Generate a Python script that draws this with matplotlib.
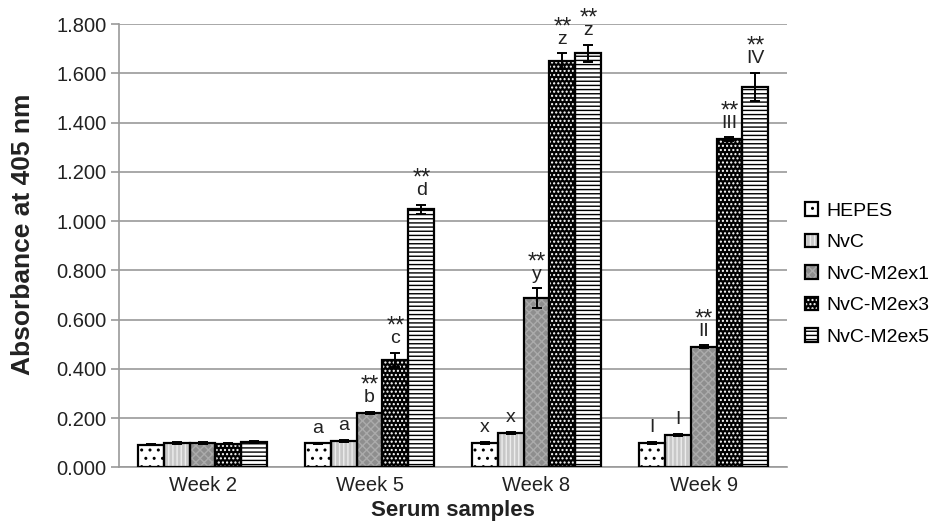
import matplotlib
matplotlib.use("Agg")
import matplotlib.pyplot as plt
import numpy as np

plt.rcParams['font.family'] = ['Liberation Sans', 'DejaVu Sans']
plt.rcParams['hatch.linewidth'] = 1.0

weeks = ['Week 2', 'Week 5', 'Week 8', 'Week 9']
groups = ['HEPES', 'NvC', 'NvC-M2ex1', 'NvC-M2ex3', 'NvC-M2ex5']

hepes = [0.093, 0.098, 0.100, 0.100]
nvc = [0.099, 0.109, 0.139, 0.132]
m2ex1 = [0.099, 0.222, 0.687, 0.490]
m2ex3 = [0.097, 0.436, 1.649, 1.332]
m2ex5 = [0.102, 1.048, 1.681, 1.545]

hepes_err = [0.003, 0.003, 0.004, 0.004]
nvc_err = [0.004, 0.004, 0.005, 0.003]
m2ex1_err = [0.003, 0.003, 0.040, 0.006]
m2ex3_err = [0.003, 0.030, 0.032, 0.008]
m2ex5_err = [0.004, 0.018, 0.034, 0.058]

hepes_lbl = ['', 'a', 'x', 'I']
nvc_lbl = ['', 'a', 'x', 'I']
m2ex1_lbl = ['', 'b', 'y', 'II']
m2ex3_lbl = ['', 'c', 'z', 'III']
m2ex5_lbl = ['', 'd', 'z', 'IV']

stars = ['', '**', '**', '**']
no_stars = ['', '', '', '']

values = [hepes, nvc, m2ex1, m2ex3, m2ex5]
errors = [hepes_err, nvc_err, m2ex1_err, m2ex3_err, m2ex5_err]
letters = [hepes_lbl, nvc_lbl, m2ex1_lbl, m2ex3_lbl, m2ex5_lbl]
signif = [no_stars, no_stars, stars, stars, stars]

# face colour, hatch colour, hatch pattern
styles = [
    ('white', 'black', '..'),
    ('#c8c8c8', '#ededed', '||||'),
    ('#8e8e8e', '#ababab', 'xxxx'),
    ('black', 'white', '....'),
    ('white', 'black', '----'),
]

fig = plt.figure(figsize=(9.37, 5.29), dpi=100)
ax = fig.add_axes([0.127, 0.1163, 0.713, 0.8383])

x = np.arange(len(weeks))
w = 0.155
handles = []
for i, (vals, errs, (face, hc, hatch)) in enumerate(zip(values, errors, styles)):
    pos = x + (i - 2) * w
    b1 = ax.bar(pos, vals, w, color=face, edgecolor=hc, hatch=hatch,
                linewidth=0, zorder=2)
    b2 = ax.bar(pos, vals, w, fill=False, edgecolor='black', linewidth=1.6,
                zorder=3, yerr=errs,
                error_kw=dict(ecolor='black', elinewidth=1.4, capsize=3.5,
                              capthick=1.4, zorder=4))
    handles.append((b1[0], b2[0]))
    for j in range(len(weeks)):
        top = vals[j] + errs[j]
        if letters[i][j]:
            ax.annotate(letters[i][j], (pos[j], top), xytext=(0, 7),
                        textcoords='offset points', ha='center', va='baseline',
                        fontsize=14, color='#222222')
        if signif[i][j]:
            ax.annotate(signif[i][j], (pos[j], top), xytext=(0, 14.5),
                        textcoords='offset points', ha='center', va='baseline',
                        fontsize=17, color='#222222')

ax.set_xlim(-0.5, len(weeks) - 0.5)
ax.set_ylim(0, 1.8)
ax.set_yticks(np.arange(0, 1.81, 0.2))
ax.set_yticklabels(['{:.3f}'.format(v) for v in np.arange(0, 1.81, 0.2)])
ax.set_xticks(x)
ax.set_xticklabels(weeks)

ax.yaxis.grid(True, color='#9a9a9a', linewidth=1.2, zorder=0)
ax.set_axisbelow(True)
for s in ['top', 'right']:
    ax.spines[s].set_visible(False)
ax.spines['left'].set_color('#9a9a9a')
ax.spines['bottom'].set_color('#9a9a9a')
ax.spines['left'].set_linewidth(1.2)
ax.spines['bottom'].set_linewidth(1.2)
ax.tick_params(axis='y', length=6, color='#9a9a9a', width=1.2, labelsize=14.5,
               labelcolor='#222222', pad=3)
ax.tick_params(axis='x', length=0, labelsize=14.5, labelcolor='#222222', pad=6)

fig.text(23 / 937, 1 - 234 / 529, 'Absorbance at 405 nm', rotation=90,
         ha='center', va='center', fontsize=19, fontweight='bold',
         color='#222222')
ax.set_xlabel('Serum samples', fontsize=16, fontweight='bold',
              color='#222222', labelpad=4)

fig.legend(handles, groups, loc='center left', bbox_to_anchor=(0.851, 0.482),
           frameon=False, fontsize=14, handlelength=0.68, handleheight=0.7,
           handletextpad=0.4, labelspacing=0.72, borderaxespad=0)

fig.savefig('out.png', dpi=100)
